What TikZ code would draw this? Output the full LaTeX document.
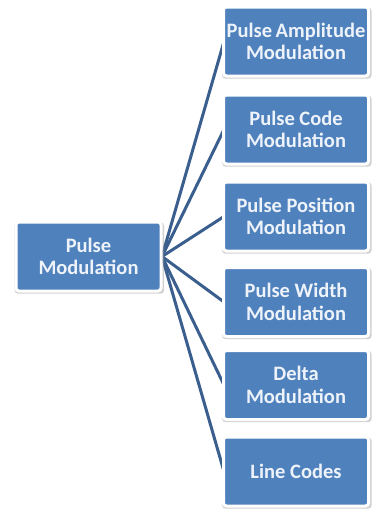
\documentclass[tikz,border=0pt]{standalone}
\usepackage{fontspec}
\setmainfont{Carlito}
\usetikzlibrary{shadows}
\definecolor{boxblue}{HTML}{4F81BD}
\definecolor{linkblue}{HTML}{3A5F8F}
\definecolor{txt}{HTML}{EEF3FA}
\tikzset{
  box/.style={rectangle, rounded corners=3pt, fill=boxblue, draw=white, line width=3pt,
    minimum width=145pt, minimum height=69pt, inner sep=0pt, align=center,
    text=txt, font=\bfseries\fontsize{20.5}{22.5}\selectfont,
    general shadow={shadow scale=1.03, shadow xshift=0.8pt, shadow yshift=-1.5pt, fill=black!40, opacity=0.45}},
  link/.style={draw=linkblue, line width=3pt}
}
\begin{document}
\begin{tikzpicture}[x=1pt,y=1pt]
\useasboundingbox (0,0) rectangle (373,-514);
\fill[white] (0,0) rectangle (373,-514);
\coordinate (c) at (162,-256.5);
\coordinate (t1) at (224,-41.5);
\coordinate (t2) at (224,-129.5);
\coordinate (t3) at (224,-216.5);
\coordinate (t4) at (224,-302);
\coordinate (t5) at (224,-385);
\coordinate (t6) at (224,-471.5);
\foreach \i in {1,...,6} \draw[link] (c) -- (t\i);
\node[box] (root) at (88.5,-256.5) {Pulse\\Modulation};
\node[box] (b1) at (296,-41.5) {Pulse\kern-1pt{} Amplitude\\Modulation};
\node[box] (b2) at (296,-129.5) {Pulse Code\\Modulation};
\node[box] (b3) at (296,-216.5) {Pulse Position\\Modulation};
\node[box] (b4) at (296,-302) {Pulse Width\\Modulation};
\node[box] (b5) at (296,-385) {Delta\\Modulation};
\node[box] (b6) at (296,-471.5) {Line Codes};
\end{tikzpicture}
\end{document}
